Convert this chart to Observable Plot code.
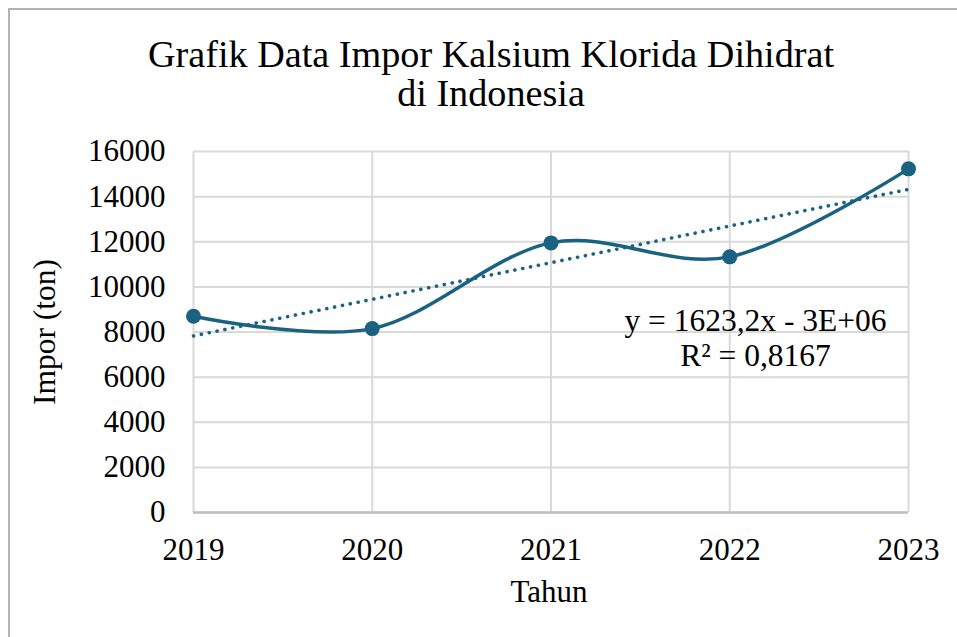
<!DOCTYPE html>
<html>
<head>
<meta charset="utf-8">
<script src="https://cdn.jsdelivr.net/npm/d3@7"></script>
<script src="https://cdn.jsdelivr.net/npm/@observablehq/plot@0.6"></script>
<style>
  html, body { margin: 0; padding: 0; background: #fff; overflow: hidden; width: 957px; height: 637px; }
  #wrap { position: relative; width: 957px; height: 637px; }
  #frame { position: absolute; left: 8px; top: 8px; width: 2000px; height: 2000px;
           border-left: 2px solid #b3b3b3; border-top: 2px solid #b3b3b3; pointer-events: none; }
  #chart { position: absolute; left: 0; top: 0; }
  #chart svg, #chart svg text { font-family: "Liberation Serif", "Times New Roman", serif !important; }
</style>
</head>
<body>
<div id="wrap"><div id="chart"></div><div id="frame"></div></div>
<script>
// ---- data ----
const years = [2019, 2020, 2021, 2022, 2023];
const impor = [8700, 8150, 11950, 11330, 15230];
const yTicks = [0, 2000, 4000, 6000, 8000, 10000, 12000, 14000, 16000];
const titleText = "Grafik Data Impor Kalsium Klorida Dihidrat\ndi Indonesia";
const xLabel = "Tahun";
const yLabel = "Impor (ton)";
const equationText = "y = 1623,2x - 3E+06\nR² = 0,8167";

const data = years.map((t, i) => ({tahun: t, impor: impor[i]}));
const color = "#1a6282";
const font = "Liberation Serif";

const chart = Plot.plot({
  width: 957,
  height: 637,
  marginLeft: 193,
  marginRight: 49,
  marginTop: 151,
  marginBottom: 125,
  style: {fontFamily: font, fontSize: "31px", color: "#000", background: "transparent", overflow: "visible"},
  x: {domain: [2019, 2023], ticks: years, tickFormat: d3.format("d"), label: null},
  y: {domain: [0, 16000], ticks: yTicks, tickFormat: d3.format("d"), label: null},
  marks: [
    Plot.gridY(yTicks, {stroke: "#d9d9d9", strokeOpacity: 1, strokeWidth: 2}),
    Plot.gridX(years, {stroke: "#d9d9d9", strokeOpacity: 1, strokeWidth: 2}),
    Plot.ruleY([0], {stroke: "#bfbfbf", strokeWidth: 2.5}),
    Plot.axisY(yTicks, {tickSize: 0, tickPadding: 28, fontSize: 31, fontFamily: font, tickFormat: d3.format("d"), label: null}),
    Plot.axisX(years, {tickSize: 0, tickPadding: 25, fontSize: 31, fontFamily: font, tickFormat: d3.format("d"), label: null}),
    Plot.linearRegressionY(data, {x: "tahun", y: "impor", ci: 0, stroke: color, strokeWidth: 3.6,
      strokeDasharray: "0.1,7.9", strokeLinecap: "round"}),
    Plot.line(data, {x: "tahun", y: "impor", curve: "cardinal", stroke: color, strokeWidth: 3.5}),
    Plot.dot(data, {x: "tahun", y: "impor", r: 7.5, fill: color, stroke: "none"}),
    Plot.text([equationText], {frameAnchor: "top-right", dx: -153, dy: 155, textAnchor: "middle",
      lineAnchor: "top", lineHeight: 1.1, fontSize: 31.5, fontFamily: font, fill: "#000"}),
    Plot.text([titleText], {frameAnchor: "top", dx: -60, dy: -112, textAnchor: "middle",
      lineAnchor: "top", lineHeight: 1.02, fontSize: 38.2, fontFamily: font, fill: "#000"}),
    Plot.text([xLabel], {frameAnchor: "bottom", dx: -2, dy: 80, textAnchor: "middle",
      lineAnchor: "middle", fontSize: 31, fontFamily: font, fill: "#000"}),
    Plot.text([yLabel], {frameAnchor: "left", dx: -149, rotate: -90, textAnchor: "middle",
      lineAnchor: "middle", fontSize: 31.5, fontFamily: font, fill: "#000"})
  ]
});
document.getElementById("chart").appendChild(chart);
</script>
</body>
</html>
